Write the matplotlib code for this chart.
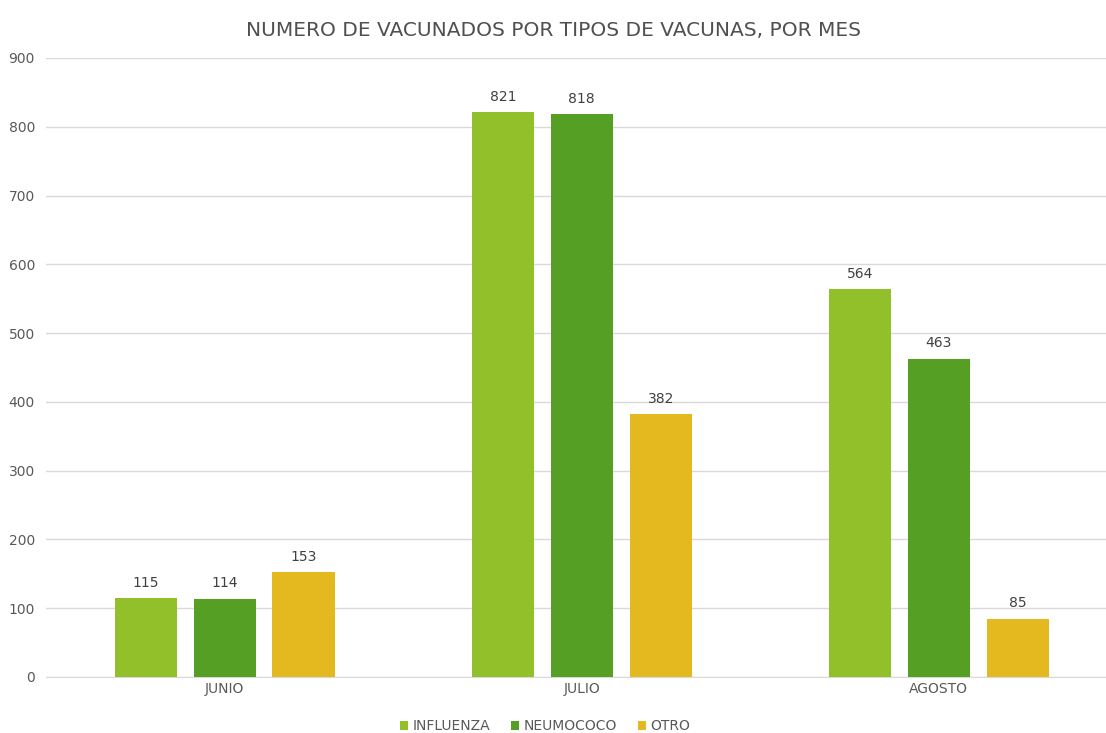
import numpy as np
import matplotlib.pyplot as plt
from matplotlib.ticker import MultipleLocator

months = ["JUNIO", "JULIO", "AGOSTO"]
series = ["INFLUENZA", "NEUMOCOCO", "OTRO"]
influenza = [115, 821, 564]
neumococo = [114, 818, 463]
otro = [153, 382, 85]
colors = ["#92C02B", "#55A024", "#E4B920"]

fig = plt.figure(figsize=(11.06, 7.33), dpi=100)
ax = fig.add_axes([46 / 1106, 1 - 677 / 733, 1 - 46 / 1106, (677 - 58) / 733])

x = np.arange(len(months))
width = 0.174
pitch = 0.221
for i, (name, vals) in enumerate(zip(series, [influenza, neumococo, otro])):
    bars = ax.bar(x + (i - 1) * pitch, vals, width, color=colors[i], label=name, zorder=3)
    for b, v in zip(bars, vals):
        ax.text(b.get_x() + b.get_width() / 2, v + 12, str(v), ha="center", va="bottom",
                fontsize=10, color="#404040")

ax.set_xlim(-0.5, 2.468)
ax.set_ylim(0, 900)
ax.yaxis.set_major_locator(MultipleLocator(100))
ax.grid(axis="y", color="#D9D9D9", linewidth=1, zorder=0)
for s in ["top", "right", "left"]:
    ax.spines[s].set_visible(False)
ax.spines["bottom"].set_color("#D9D9D9")
ax.tick_params(axis="both", length=0, colors="#595959", labelsize=10)
ax.tick_params(axis="y", pad=8)
ax.set_xticks(x)
ax.set_xticklabels(months)

fig.text(0.5, 1 - 30 / 733, "NUMERO DE VACUNADOS POR TIPOS DE VACUNAS, POR MES",
         ha="center", va="center", fontsize=14.5, color="#505050")

fig.legend(loc="center", bbox_to_anchor=(545 / 1106, 1 - 726 / 733), ncol=3, frameon=False,
           fontsize=10, handlelength=0.6, handleheight=0.6, handletextpad=0.3,
           columnspacing=1.5, labelcolor="#595959")

fig.savefig("out.png", dpi=100)
